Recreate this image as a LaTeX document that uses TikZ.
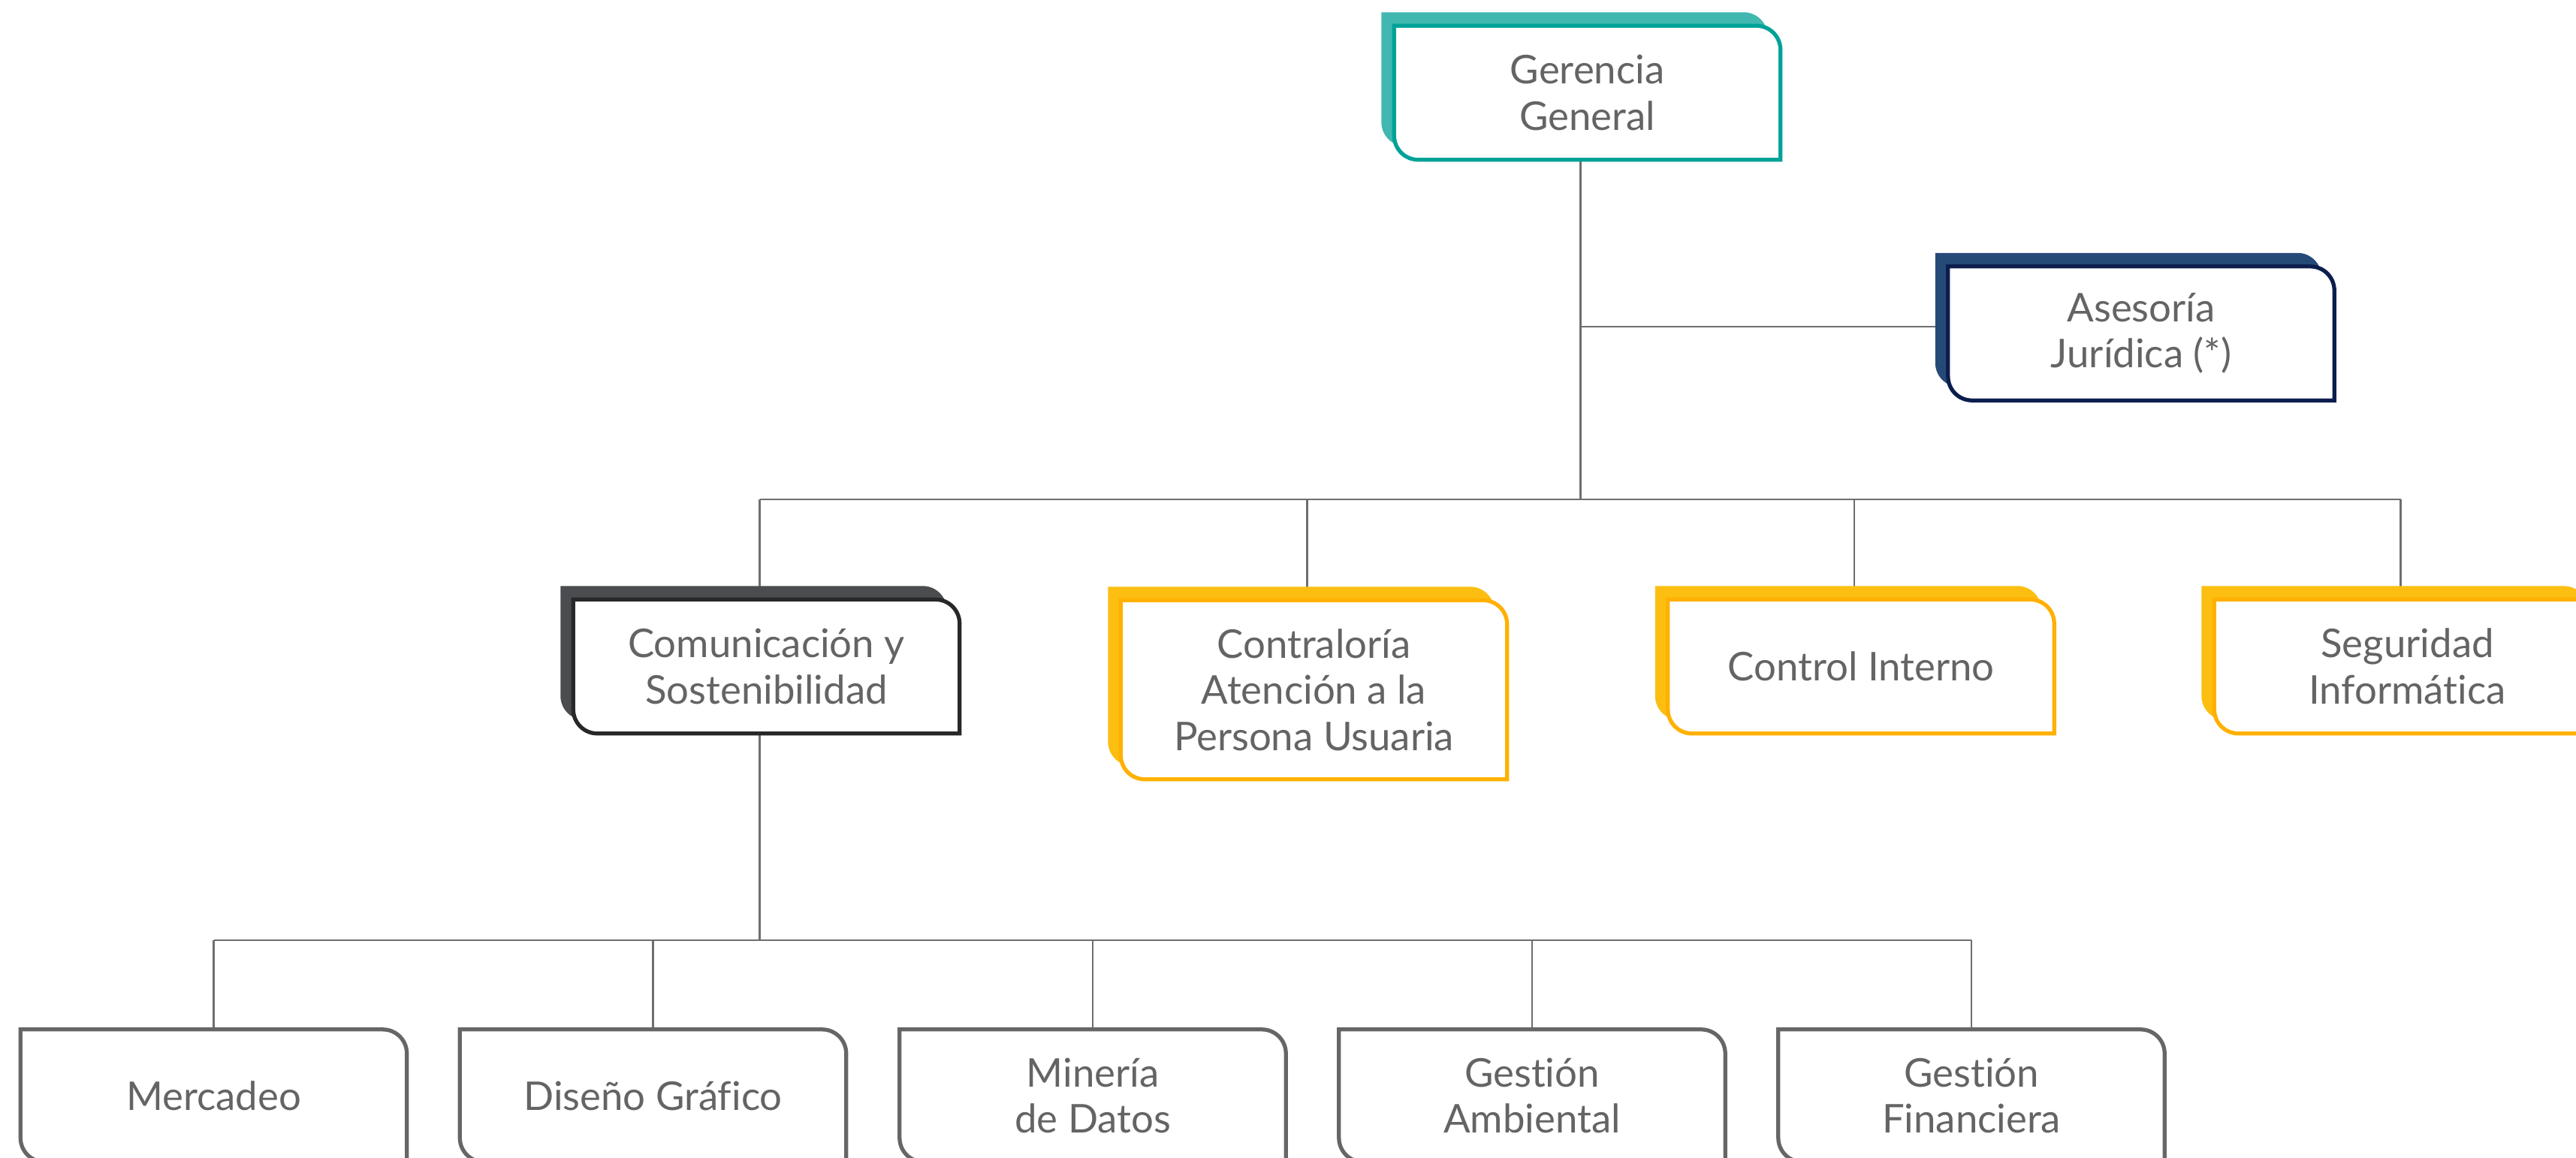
\documentclass[tikz,border=0pt]{standalone}
\usepackage{fontspec}
\setmainfont{Lato}[Ligatures=NoCommon]
\usepackage{tikz}
\usetikzlibrary{backgrounds}
\definecolor{linkgray}{RGB}{110,110,110}
\definecolor{textgray}{RGB}{100,100,100}
\definecolor{tealback}{RGB}{64,184,176}
\definecolor{tealline}{RGB}{0,162,152}
\definecolor{navyback}{RGB}{38,74,120}
\definecolor{navyline}{RGB}{12,30,78}
\definecolor{darkback}{RGB}{74,76,79}
\definecolor{darkline}{RGB}{40,40,42}
\definecolor{goldback}{RGB}{253,190,18}
\definecolor{goldline}{RGB}{255,176,0}
\definecolor{unitgray}{RGB}{102,102,102}

% box outline: round top-right and bottom-left corners
\newcommand{\deptpath}[2]{%
  ([shift={#2}]#1.north west) -- ([shift={#2},xshift=-3.2mm]#1.north east)
  arc[start angle=90, end angle=0, radius=3.2mm]
  -- ([shift={#2}]#1.south east) -- ([shift={#2},xshift=3.2mm]#1.south west)
  arc[start angle=270, end angle=180, radius=3.2mm] -- cycle}
\newcommand{\deptbox}[3]{%
  \fill[#2] \deptpath{#1}{(-0.17,0.18)};
  \filldraw[fill=white, draw=#3, line width=1.5pt] \deptpath{#1}{(0,0)};}

\begin{document}
\begin{tikzpicture}[
    unit/.style={minimum width=5.13cm, minimum height=1.77cm, inner sep=0pt, align=center,
                 text=textgray, font=\fontsize{15}{17.5}\selectfont},
    link/.style={draw=linkgray, line width=0.6pt}
]
    \useasboundingbox (0,0) rectangle (34.30,-15.41);

    % Top level
    \node[unit] (gg) at (21.135,-1.235) {Gerencia\\General};
    \node[unit] (aj) at (28.51,-4.44) {Asesoría\\Jurídica (*)};

    % Second level
    \node[unit] (com) at (10.205,-8.875) {Comunicación y\\Sostenibilidad};
    \node[unit, minimum height=2.37cm] (con) at (17.495,-9.185) {Contraloría\\Atención a la\\Persona Usuaria};
    \node[unit] (ci) at (24.78,-8.875) {Control Interno};
    \node[unit] (si) at (32.055,-8.875) {Seguridad\\Informática};

    % Third level
    \node[unit, minimum height=1.75cm] (mer) at (2.845,-14.59) {Mercadeo};
    \node[unit, minimum height=1.75cm] (dis) at (8.695,-14.59) {Diseño Gráfico};
    \node[unit, minimum height=1.75cm] (min) at (14.55,-14.59) {Minería\\de Datos};
    \node[unit, minimum height=1.75cm] (amb) at (20.40,-14.59) {Gestión\\Ambiental};
    \node[unit, minimum height=1.75cm] (fin) at (26.25,-14.59) {Gestión\\Financiera};

    \begin{scope}[on background layer]
        % Connections
        \coordinate (bus) at ([xshift=-0.09cm]gg.south |- 0,-6.65);
        \coordinate (subbus) at ([xshift=-0.09cm]com.south |- 0,-12.52);
        \draw[link] ([xshift=-0.09cm]gg.south) -- (bus);
        \draw[link] (bus |- 0,-4.35) -- (aj.west |- 0,-4.35);
        \draw[link] ([xshift=-0.09cm]com.north |- bus) -- ([xshift=-0.09cm]si.north |- bus);
        \foreach \n in {com, con, ci, si}
            \draw[link] ([xshift=-0.09cm]\n.north |- bus) -- ([xshift=-0.09cm]\n.north);
        \draw[link] ([xshift=-0.09cm]com.south) -- (subbus);
        \draw[link] (mer.north |- subbus) -- (fin.north |- subbus);
        \foreach \n in {mer, dis, min, amb, fin}
            \draw[link] (\n.north |- subbus) -- (\n.north);

        % Boxes
        \deptbox{gg}{tealback}{tealline}
        \deptbox{aj}{navyback}{navyline}
        \deptbox{com}{darkback}{darkline}
        \foreach \n in {con, ci, si}
            {\deptbox{\n}{goldback}{goldline}}
        \foreach \n in {mer, dis, min, amb, fin}
            \draw[unitgray, line width=1.5pt] \deptpath{\n}{(0,0)};
    \end{scope}
\end{tikzpicture}
\end{document}
